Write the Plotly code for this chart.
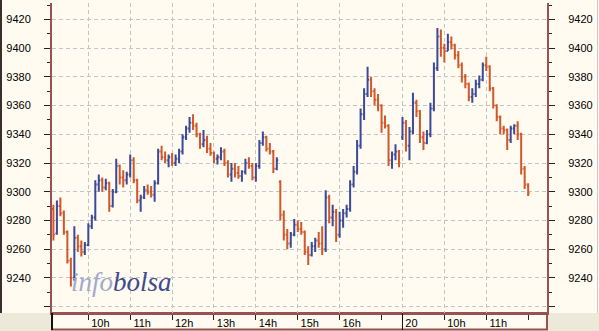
import pandas as pd
import plotly.graph_objects as go

# ---------------- data (5-minute OHLC bars) ----------------
day19_start = "09:10"
day20_start = "09:00"
bar_minutes = 5

day19_open = [9288, 9271, 9290, 9285, 9272, 9252, 9240, 9268, 9262, 9258,
              9263, 9276, 9282, 9305, 9308, 9303, 9306, 9290, 9300, 9318,
              9310, 9308, 9312, 9322, 9308, 9294, 9296, 9301, 9300, 9298,
              9306, 9328, 9324, 9322, 9324, 9320, 9323, 9328, 9338, 9344,
              9348, 9346, 9340, 9333, 9336, 9330, 9327, 9323, 9324, 9328,
              9320, 9312, 9316, 9313, 9311, 9314, 9320, 9318, 9310, 9318,
              9334, 9338, 9330, 9328, 9316, 9307, 9284, 9270, 9264, 9270,
              9277, 9274, 9272, 9258, 9256, 9262, 9266, 9264, 9260, 9296,
              9282, 9286, 9270, 9280, 9285, 9288, 9305, 9314, 9332, 9354,
              9368, 9378, 9370, 9364, 9360, 9348, 9346, 9322, 9326, 9328]
day19_high = [9291, 9294, 9296, 9287, 9273, 9254, 9276, 9270, 9266, 9265,
              9278, 9284, 9308, 9312, 9310, 9309, 9307, 9302, 9323, 9319,
              9315, 9314, 9326, 9324, 9309, 9298, 9304, 9305, 9304, 9308,
              9330, 9332, 9328, 9326, 9327, 9326, 9330, 9340, 9346, 9352,
              9354, 9348, 9341, 9343, 9339, 9334, 9328, 9326, 9331, 9330,
              9322, 9320, 9320, 9318, 9315, 9323, 9324, 9320, 9320, 9336,
              9342, 9339, 9334, 9329, 9324, 9308, 9287, 9274, 9272, 9281,
              9280, 9279, 9273, 9262, 9265, 9268, 9272, 9276, 9301, 9298,
              9291, 9288, 9286, 9288, 9291, 9308, 9318, 9336, 9358, 9372,
              9387, 9380, 9372, 9368, 9361, 9353, 9347, 9328, 9333, 9329]
day19_low = [9266, 9270, 9283, 9270, 9250, 9234, 9238, 9258, 9255, 9256,
             9262, 9274, 9280, 9300, 9300, 9301, 9286, 9289, 9299, 9305,
             9303, 9305, 9310, 9306, 9292, 9286, 9295, 9298, 9296, 9293,
             9305, 9322, 9320, 9317, 9318, 9318, 9320, 9326, 9336, 9341,
             9343, 9338, 9330, 9331, 9327, 9325, 9320, 9319, 9322, 9318,
             9310, 9307, 9310, 9309, 9307, 9312, 9316, 9308, 9307, 9316,
             9332, 9328, 9326, 9313, 9315, 9280, 9266, 9260, 9261, 9269,
             9272, 9270, 9256, 9249, 9255, 9258, 9261, 9256, 9258, 9278,
             9276, 9265, 9268, 9275, 9282, 9286, 9303, 9312, 9330, 9350,
             9366, 9366, 9360, 9356, 9341, 9344, 9318, 9316, 9322, 9317]
day19_close = [9270, 9290, 9285, 9272, 9252, 9240, 9268, 9262, 9258, 9263,
               9276, 9282, 9305, 9308, 9303, 9306, 9290, 9300, 9318, 9310,
               9308, 9312, 9322, 9308, 9294, 9296, 9301, 9300, 9298, 9306,
               9328, 9324, 9322, 9324, 9320, 9323, 9328, 9338, 9344, 9348,
               9346, 9340, 9333, 9336, 9330, 9327, 9323, 9324, 9328, 9320,
               9312, 9316, 9313, 9311, 9314, 9320, 9318, 9310, 9318, 9334,
               9338, 9330, 9328, 9316, 9322, 9284, 9270, 9264, 9270, 9277,
               9274, 9272, 9258, 9256, 9262, 9266, 9264, 9260, 9296, 9282,
               9286, 9270, 9280, 9285, 9288, 9305, 9314, 9332, 9354, 9368,
               9378, 9370, 9364, 9360, 9348, 9346, 9322, 9326, 9328, 9320]

day20_open = [9338, 9348, 9332, 9342, 9362, 9356, 9338, 9334, 9340, 9358,
              9386, 9408, 9400, 9398, 9404, 9402, 9395, 9388, 9380, 9375,
              9366, 9368, 9375, 9378, 9388, 9387, 9372, 9360, 9352, 9344,
              9343, 9336, 9344, 9346, 9340, 9316, 9305]
day20_high = [9352, 9350, 9345, 9369, 9364, 9357, 9342, 9343, 9362, 9390,
              9414, 9413, 9403, 9410, 9408, 9403, 9398, 9390, 9382, 9376,
              9372, 9378, 9381, 9390, 9394, 9388, 9373, 9361, 9353, 9346,
              9344, 9346, 9347, 9349, 9341, 9318, 9306]
day20_low = [9336, 9328, 9322, 9340, 9352, 9334, 9329, 9333, 9338, 9356,
             9384, 9394, 9390, 9398, 9399, 9392, 9386, 9376, 9372, 9363,
             9362, 9366, 9372, 9377, 9384, 9370, 9358, 9349, 9340, 9340,
             9329, 9334, 9340, 9336, 9312, 9302, 9297]
day20_close = [9348, 9332, 9342, 9362, 9356, 9338, 9334, 9340, 9358, 9386,
               9408, 9400, 9398, 9404, 9402, 9395, 9388, 9380, 9375, 9366,
               9368, 9375, 9378, 9388, 9387, 9372, 9360, 9352, 9344, 9343,
               9336, 9344, 9346, 9340, 9316, 9305, 9299]

# axis ticks: session hours (day 19 09:00 = 0, day 20 09:00 = 8.5)
x_tick_vals = [1, 2, 3, 4, 5, 6, 7, 8.5, 9.5, 10.5]
x_tick_text = ["10h", "11h", "12h", "13h", "14h", "15h", "16h", "20\u00a0\u00a0", "10h", "11h"]
x_minor_vals = [8.0, 11.5]
y_tick_vals = list(range(9220, 9421, 20))
y_tick_text = [""] + [str(v) for v in y_tick_vals[1:]]
y_minor_vals = list(range(9230, 9431, 20))

# ---------------- build x positions from bar timestamps ----------------
def session_x(start, n, offset):
    ts = pd.date_range("2000-01-01 " + start, periods=n, freq=f"{bar_minutes}min")
    return [(t.hour + t.minute / 60.0) - 9.0 + offset for t in ts]

x19 = session_x(day19_start, len(day19_close), 0.0)
x20 = session_x(day20_start, len(day20_close), 8.5)
xs = x19 + x20
opens = day19_open + day20_open
highs = day19_high + day20_high
lows = day19_low + day20_low
closes = day19_close + day20_close

CREAM = "#FFFBF0"
GRAY = "#ECE9D8"
BROWN = "#985252"
GRID = "#C4C4C4"
TICK = "#222222"
FONT = "Liberation Sans, Arial, sans-serif"

fig = go.Figure()
fig.add_trace(go.Ohlc(
    x=xs, open=opens, high=highs, low=lows, close=closes,
    increasing=dict(line=dict(color="#3B4A99", width=2)),
    decreasing=dict(line=dict(color="#D2572A", width=2)),
    tickwidth=0.4, showlegend=False, hoverinfo="skip",
))
# invisible companion trace so the right-hand price axis is drawn
fig.add_trace(go.Scatter(x=xs[:1], y=closes[:1], yaxis="y2", mode="markers",
                         marker=dict(opacity=0), showlegend=False, hoverinfo="skip"))

L, R, T, B = 52, 52, 3, 18
W, H = 599, 331
PW, PH = W - L - R, H - T - B

def px(xp):
    return (xp - L) / PW

def py(yp):
    return (H - B - yp) / PH

yrange = [9215.6, 9431.4]
yaxis_common = dict(
    range=yrange, tickmode="array", tickvals=y_tick_vals, ticktext=y_tick_text,
    ticks="outside", ticklen=6, tickwidth=1, tickcolor=TICK,
    showline=True, linecolor=BROWN, linewidth=2, zeroline=False,
    tickfont=dict(family=FONT, size=11, color="black"),
    minor=dict(tickmode="array", tickvals=y_minor_vals, ticks="outside",
               ticklen=3, tickwidth=1, tickcolor=TICK, showgrid=False),
    ticklabelstandoff=11, fixedrange=True,
)

fig.update_layout(
    width=W, height=H, margin=dict(l=L, r=R, t=T, b=B),
    paper_bgcolor=CREAM, plot_bgcolor=CREAM, showlegend=False,
    xaxis=dict(
        range=[0.133, 11.95], tickmode="array", tickvals=x_tick_vals, ticktext=x_tick_text,
        ticks="outside", ticklen=5, tickwidth=1, tickcolor=TICK,
        showline=True, linecolor=BROWN, linewidth=2, zeroline=False,
        showgrid=True, gridcolor=GRID, gridwidth=1, griddash="4px,3px",
        tickfont=dict(family=FONT, size=11, color="black"),
        ticklabelshift=12, ticklabelstandoff=-6,
        minor=dict(tickmode="array", tickvals=x_minor_vals, ticks="outside",
                   ticklen=5, tickwidth=1, tickcolor=TICK, showgrid=False),
        rangeslider=dict(visible=False), fixedrange=True,
    ),
    yaxis=dict(side="left", showgrid=True, gridcolor=GRID, gridwidth=1,
               griddash="4px,3px", **yaxis_common),
    yaxis2=dict(side="right", overlaying="y", showgrid=False, **yaxis_common),
)

shapes = [
    # grey strip under the chart
    dict(type="rect", xref="paper", yref="paper", x0=px(0), x1=px(W), y0=py(H), y1=0,
         fillcolor=GRAY, line=dict(width=0), layer="below"),
    # time-axis box
    dict(type="rect", xref="paper", yref="paper", x0=0, x1=1, y0=py(329.5), y1=0,
         fillcolor=CREAM, line=dict(color=BROWN, width=2), layer="below"),
    # day boundaries in the time-axis box
    dict(type="line", xref="paper", yref="paper", x0=0, x1=0, y0=py(330), y1=0,
         line=dict(color="#111111", width=2)),
    dict(type="line", xref="x", yref="paper", x0=8.5, x1=8.5, y0=py(330), y1=0,
         line=dict(color="#111111", width=1)),
    # outer frame
    dict(type="line", xref="paper", yref="paper", x0=px(1), x1=px(1), y0=0, y1=py(0),
         line=dict(color="#3A2E2E", width=2)),
    dict(type="line", xref="paper", yref="paper", x0=px(597.5), x1=px(597.5), y0=0, y1=py(0),
         line=dict(color="#C8C8C8", width=1)),
]
fig.update_layout(shapes=shapes)

fig.add_annotation(
    xref="paper", yref="paper", x=px(69), y=py(282), xanchor="left", yanchor="middle",
    showarrow=False,
    text="<i><span style='color:#A3A9CB'>info</span><span style='color:#3F4A8C'>bolsa</span></i>",
    font=dict(family="Liberation Serif, DejaVu Serif, serif", size=27),
)

fig.write_html("out.html")
